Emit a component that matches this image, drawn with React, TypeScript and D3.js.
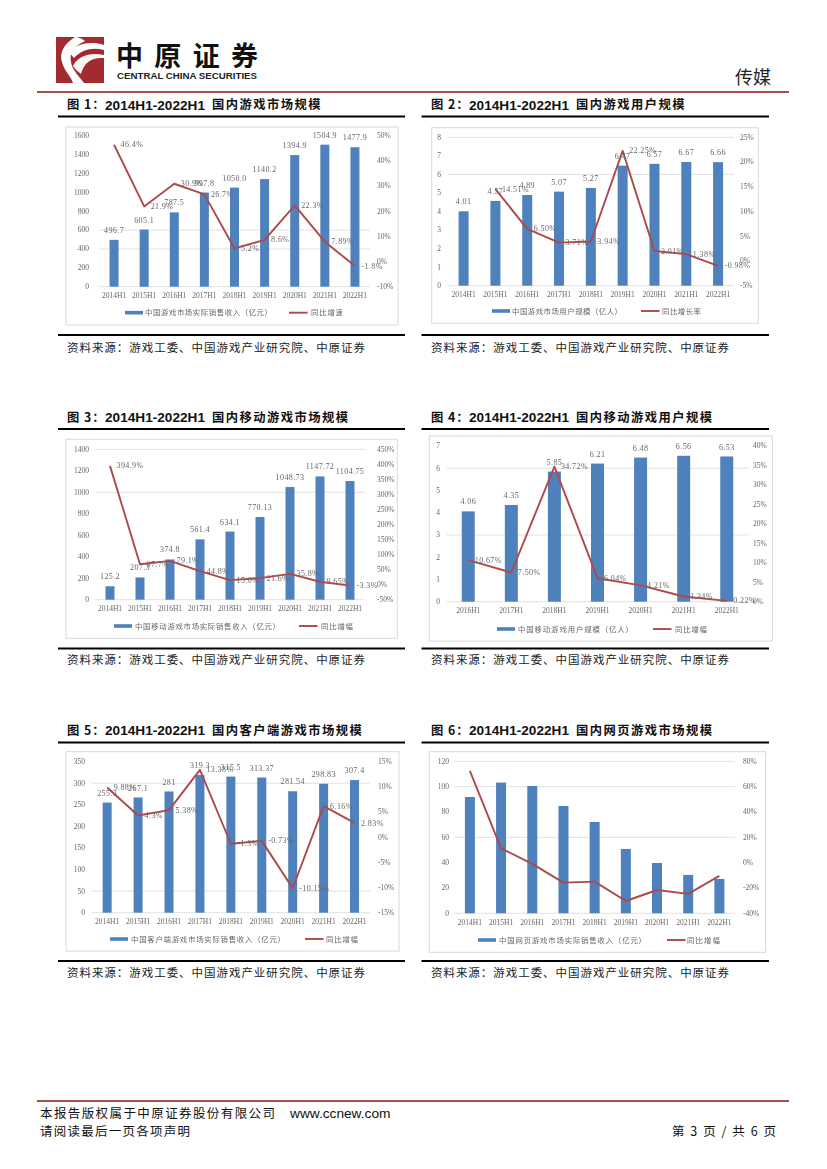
import React from "react";
import * as d3 from "d3";

// ---------- data ----------
const cats9 = ["2014H1", "2015H1", "2016H1", "2017H1", "2018H1", "2019H1", "2020H1", "2021H1", "2022H1"];
const cats7 = ["2016H1", "2017H1", "2018H1", "2019H1", "2020H1", "2021H1", "2022H1"];

const titlePrefixes = ["图 1：", "图 2：", "图 3：", "图 4：", "图 5：", "图 6："];
const titlePeriod = "2014H1-2022H1";
const titleNames = [
  "国内游戏市场规模",
  "国内游戏用户规模",
  "国内移动游戏市场规模",
  "国内移动游戏用户规模",
  "国内客户端游戏市场规模",
  "国内网页游戏市场规模",
];
const sourceText = "资料来源：游戏工委、中国游戏产业研究院、中原证券";

const bars1 = [496.7, 605.1, 787.5, 997.8, 1050.0, 1140.2, 1394.9, 1504.9, 1477.9];
const line1 = [46.4, 21.9, 30.9, 26.7, 5.2, 8.6, 22.3, 7.89, -1.8];
const bars2 = [4.01, 4.57, 4.89, 5.07, 5.27, 6.47, 6.57, 6.67, 6.66];
const line2: (number | null)[] = [null, 14.51, 6.5, 3.71, 3.94, 22.25, 2.01, 1.38, -0.98];
const bars3 = [125.2, 207.3, 374.8, 561.4, 634.1, 770.13, 1048.73, 1147.72, 1104.75];
const line3 = [394.9, 67.7, 79.1, 44.8, 15.0, 21.6, 35.8, 9.65, -3.3];
const bars4 = [4.06, 4.35, 5.85, 6.21, 6.48, 6.56, 6.53];
const line4 = [10.67, 7.5, 34.72, 6.04, 4.21, 1.34, 0.22];
const bars5 = [255.3, 267.1, 281, 319.3, 315.5, 313.37, 281.54, 298.83, 307.4];
const line5 = [9.88, 4.3, 5.38, 13.38, -1.3, -0.73, -10.15, 6.16, 2.83];
const bars6 = [91.8, 103.2, 100.5, 84.7, 72.1, 50.8, 39.7, 30.3, 27.1];
const line6 = [72.4, 11.3, -1.0, -15.8, -15.0, -30.3, -21.6, -24.7, -10.5];

const barLabels1 = ["496.7", "605.1", "787.5", "997.8", "1050.0", "1140.2", "1394.9", "1504.9", "1477.9"];
const lineLabels1 = ["46.4%", "21.9%", "30.9%", "26.7%", "5.2%", "8.6%", "22.3%", "7.89%", "-1.8%"];
const barLabels2 = ["4.01", "4.57", "4.89", "5.07", "5.27", "6.47", "6.57", "6.67", "6.66"];
const lineLabels2 = ["", "14.51%", "6.50%", "3.71%", "3.94%", "22.25%", "2.01%", "1.38%", "-0.98%"];
const barLabels3 = ["125.2", "207.3", "374.8", "561.4", "634.1", "770.13", "1048.73", "1147.72", "1104.75"];
const lineLabels3 = ["394.9%", "67.7%", "79.1%", "44.8%", "15.0%", "21.6%", "35.8%", "9.65%", "-3.3%"];
const barLabels4 = ["4.06", "4.35", "5.85", "6.21", "6.48", "6.56", "6.53"];
const lineLabels4 = ["10.67%", "7.50%", "34.72%", "6.04%", "4.21%", "1.34%", "0.22%"];
const barLabels5 = ["255.3", "267.1", "281", "319.3", "315.5", "313.37", "281.54", "298.83", "307.4"];
const lineLabels5 = ["9.88%", "4.3%", "5.38%", "13.38%", "-1.3%", "-0.73%", "-10.15%", "6.16%", "2.83%"];

const legends = [
  ["中国游戏市场实际销售收入（亿元）", "同比增速"],
  ["中国游戏市场用户规模（亿人）", "同比增长率"],
  ["中国移动游戏市场实际销售收入（亿元）", "同比增幅"],
  ["中国移动游戏用户规模（亿人）", "同比增幅"],
  ["中国客户端游戏市场实际销售收入（亿元）", "同比增幅"],
  ["中国网页游戏市场实际销售收入（亿元）", "同比增幅"],
];

// ---------- styling / layout ----------
const BLUE = "#4f81bd";
const RED = "#ad4a4a";
const DARK_RED = "#8c1014";
const GREY = "#666666";
const CJK = '"Noto Sans CJK SC", sans-serif';
const NUM = '"Liberation Serif", serif';
const SANS = '"Liberation Sans", sans-serif';

interface Spec {
  frame: [number, number, number, number];
  plot: [number, number, number, number]; // left, right, top, bottom
  barW: number;
  cats: string[];
  bars: number[];
  line: (number | null)[];
  barLabels?: string[];
  lineLabels?: string[];
  leftDomain: [number, number];
  leftStep: number;
  rightDomain: [number, number];
  rightStep: number;
  grid: number[];
  leftX: number;
  rightX: number;
  legend: { y: number; s1: number; t1: number; t1w: number; s2: number; t2: number; t2w: number };
  legendText: string[];
}

const specs: Spec[] = [
  {
    frame: [66, 127, 398, 325], plot: [99, 370, 135.7, 286.7], barW: 9, cats: cats9, bars: bars1, line: line1,
    barLabels: barLabels1, lineLabels: lineLabels1, leftDomain: [0, 1600], leftStep: 200, rightDomain: [-10, 50], rightStep: 10,
    grid: [0, 400, 600], leftX: 89, rightX: 377,
    legend: { y: 312.7, s1: 125, t1: 145, t1w: 127, s2: 289, t2: 311, t2w: 32 }, legendText: legends[0],
  },
  {
    frame: [431.7, 127.7, 758.3, 323.3], plot: [447.7, 734, 137.3, 285.7], barW: 10, cats: cats9, bars: bars2, line: line2,
    barLabels: barLabels2, lineLabels: lineLabels2, leftDomain: [0, 8], leftStep: 1, rightDomain: [-5, 25], rightStep: 5,
    grid: [0, 6, 8], leftX: 441, rightX: 740,
    legend: { y: 311, s1: 492, t1: 512, t1w: 110, s2: 641, t2: 662, t2w: 39 }, legendText: legends[1],
  },
  {
    frame: [66, 439.3, 397.3, 638.3], plot: [95, 365, 449.3, 599.7], barW: 9, cats: cats9, bars: bars3, line: line3,
    barLabels: barLabels3, lineLabels: lineLabels3, leftDomain: [0, 1400], leftStep: 200, rightDomain: [-50, 450], rightStep: 50,
    grid: [0, 1000, 1400], leftX: 89, rightX: 377,
    legend: { y: 626, s1: 114, t1: 135, t1w: 145, s2: 299, t2: 321, t2w: 32 }, legendText: legends[2],
  },
  {
    frame: [429.3, 436, 772.3, 641], plot: [446.7, 748.3, 446, 601.7], barW: 13, cats: cats7, bars: bars4, line: line4,
    barLabels: barLabels4, lineLabels: lineLabels4, leftDomain: [0, 7], leftStep: 1, rightDomain: [0, 40], rightStep: 5,
    grid: [0, 3, 6], leftX: 440, rightX: 753,
    legend: { y: 629, s1: 497, t1: 518, t1w: 115, s2: 653, t2: 675, t2w: 32 }, legendText: legends[3],
  },
  {
    frame: [66, 751.7, 399, 951], plot: [91.7, 370, 761.7, 912.7], barW: 9, cats: cats9, bars: bars5, line: line5,
    barLabels: barLabels5, lineLabels: lineLabels5, leftDomain: [0, 350], leftStep: 50, rightDomain: [-15, 15], rightStep: 5,
    grid: [0, 50, 300], leftX: 85, rightX: 378,
    legend: { y: 939, s1: 110, t1: 131, t1w: 154, s2: 305, t2: 326, t2w: 32 }, legendText: legends[4],
  },
  {
    frame: [429.3, 751.7, 765.7, 952.3], plot: [454.3, 735, 761.3, 913.3], barW: 10, cats: cats9, bars: bars6, line: line6,
    leftDomain: [0, 120], leftStep: 20, rightDomain: [-40, 80], rightStep: 20,
    grid: [0, 60, 100, 120], leftX: 449, rightX: 743,
    legend: { y: 940, s1: 478, t1: 499, t1w: 147, s2: 667, t2: 687, t2w: 33 }, legendText: legends[5],
  },
];

const rows = [
  { title: 105, top: 116.5, bottom: 335, source: 347.5 },
  { title: 417.5, top: 429, bottom: 648.5, source: 660 },
  { title: 730.5, top: 742.5, bottom: 961, source: 972.5 },
];
const columns = [
  { x0: 58, x1: 405, text: 67 },
  { x0: 421.5, x1: 769, text: 431 },
];

const rangeOf = (from: number, to: number, step: number) => d3.range(from, to + step / 2, step);

function Chart({ s }: { s: Spec }) {
  const [l, r, t, b] = s.plot;
  const step = (r - l) / s.cats.length;
  const pad = 1 - s.barW / step;
  const x = d3.scaleBand<string>().domain(s.cats).range([l, r]).paddingInner(pad).paddingOuter(pad / 2);
  const yL = d3.scaleLinear().domain(s.leftDomain).range([b, t]);
  const yR = d3.scaleLinear().domain(s.rightDomain).range([b, t]);
  const cx = (c: string) => (x(c) as number) + x.bandwidth() / 2;
  const linePath = d3
    .line<number | null>()
    .defined((d) => d !== null)
    .x((_, i) => cx(s.cats[i]))
    .y((d) => yR(d as number))(s.line) as string;
  const [f0, f1, f2, f3] = s.frame;
  const lg = s.legend;
  return (
    <g>
      <rect x={f0} y={f1} width={f2 - f0} height={f3 - f1} fill="#fff" stroke="#d9d9d9" strokeWidth={1} />
      <g filter="url(#soft)">
        {s.grid.map((v) => (
          <line key={v} x1={l} x2={r} y1={yL(v)} y2={yL(v)} stroke="#d9d9d9" strokeWidth={0.8} />
        ))}
        {s.cats.map((c, i) => (
          <rect key={c} x={x(c)} y={yL(s.bars[i])} width={x.bandwidth()} height={b - yL(s.bars[i])} fill={BLUE} />
        ))}
        <path d={linePath} fill="none" stroke={RED} strokeWidth={1.9} strokeLinejoin="round" />
        {rangeOf(s.leftDomain[0], s.leftDomain[1], s.leftStep).map((v) => (
          <text key={v} x={s.leftX} y={yL(v)} dy="0.32em" textAnchor="end" fontFamily={NUM} fontSize={7.5} fill={GREY}>
            {v}
          </text>
        ))}
        {rangeOf(s.rightDomain[0], s.rightDomain[1], s.rightStep).map((v) => (
          <text key={v} x={s.rightX} y={yR(v)} dy="0.32em" fontFamily={NUM} fontSize={7.5} fill={GREY}>
            {v}%
          </text>
        ))}
        {s.cats.map((c) => (
          <text key={c} x={cx(c)} y={b + 9.3} dy="0.32em" textAnchor="middle" fontFamily={NUM} fontSize={7.5} fill={GREY}>
            {c}
          </text>
        ))}
        {s.barLabels &&
          s.cats.map((c, i) => (
            <text key={c} x={cx(c)} y={yL(s.bars[i]) - 9.5} dy="0.32em" textAnchor="middle" fontFamily={NUM} fontSize={8} letterSpacing={0.4} fill={GREY}>
              {s.barLabels![i]}
            </text>
          ))}
        {s.lineLabels &&
          s.cats.map((c, i) =>
            s.line[i] === null ? null : (
              <text key={c} x={cx(c) + 6.5} y={yR(s.line[i] as number)} dy="0.32em" fontFamily={NUM} fontSize={8} letterSpacing={0.4} fill={GREY}>
                {s.lineLabels![i]}
              </text>
            ),
          )}
        <rect x={lg.s1} y={lg.y - 1.8} width={18} height={3.6} fill={BLUE} />
        <text x={lg.t1} y={lg.y} dy="0.36em" textLength={lg.t1w} lengthAdjust="spacing" fontFamily={CJK} fontSize={7.4} fill={GREY}>
          {s.legendText[0]}
        </text>
        <line x1={lg.s2} x2={lg.s2 + 18.5} y1={lg.y} y2={lg.y} stroke={RED} strokeWidth={1.9} />
        <text x={lg.t2} y={lg.y} dy="0.36em" textLength={lg.t2w} lengthAdjust="spacing" fontFamily={CJK} fontSize={7.4} fill={GREY}>
          {s.legendText[1]}
        </text>
      </g>
    </g>
  );
}

function Logo() {
  return (
    <g>
      <rect x={56} y={37} width={48} height={46} fill="#a32b2f" />
      <path d="M75 37 C64 44 59 53 62 62 C64 71 71 76 73 83 L84 83 C79 76 72 70 71 62 C69 53 74 46 85 41 C81 38 78 37 75 37 Z" fill="#fff" />
      <path d="M69 52 C77 43 92 41 104 45 L104 50 C93 47 82 49 74 58 Z" fill="#fff" />
      <path d="M73 66 C78 56 90 52 104 55 L104 58 C92 57 84 62 81 74 C78 72 75 69 73 66 Z" fill="#fff" opacity={0.95} />
      <text x={116} y={66} textLength={142} lengthAdjust="spacing" fontFamily={CJK} fontWeight={700} fontSize={27} fill="#111">
        中原证券
      </text>
      <text x={117} y={78.5} textLength={140} lengthAdjust="spacingAndGlyphs" fontFamily={SANS} fontWeight={700} fontSize={8.6} fill="#222">
        CENTRAL CHINA SECURITIES
      </text>
    </g>
  );
}

export default function App() {
  return (
    <svg
      width={827}
      height={1169}
      viewBox="0 0 827 1169"
      style={{ position: "absolute", left: 0, top: 0, background: "#fff" }}
    >
      <defs>
        <filter id="soft" x="-5%" y="-5%" width="110%" height="110%">
          <feGaussianBlur stdDeviation="0.35" />
        </filter>
      </defs>
      <Logo />
      <text x={735} y={84} fontFamily={CJK} fontSize={18} fill="#222">
        传媒
      </text>
      <line x1={37} x2={789} y1={92} y2={92} stroke={DARK_RED} strokeWidth={1.6} />

      {rows.map((row, ri) =>
        columns.map((col, ci) => {
          const idx = ri * 2 + ci;
          return (
            <g key={idx}>
              <text x={col.text} y={row.title} dy="0.36em" fontFamily={CJK} fontWeight={700} fontSize={12.3} letterSpacing={1} fill="#111">
                {titlePrefixes[idx]}
              </text>
              <text x={col.text + 38} y={row.title} dy="0.36em" textLength={100} lengthAdjust="spacing" fontFamily={SANS} fontWeight={700} fontSize={13.6} fill="#111">
                {titlePeriod}
              </text>
              <text x={col.text + 145} y={row.title} dy="0.36em" fontFamily={CJK} fontWeight={700} fontSize={12.3} letterSpacing={1.45} fill="#111">
                {titleNames[idx]}
              </text>
              <line x1={col.x0} x2={col.x1} y1={row.top} y2={row.top} stroke="#000" strokeWidth={1.8} />
              <line x1={col.x0} x2={col.x1} y1={row.bottom} y2={row.bottom} stroke="#000" strokeWidth={1.8} />
              <text x={col.text} y={row.source} dy="0.36em" textLength={298} lengthAdjust="spacing" fontFamily={CJK} fontSize={11.5} fill="#222">
                {sourceText}
              </text>
            </g>
          );
        }),
      )}

      {specs.map((s, i) => (
        <Chart key={i} s={s} />
      ))}

      <line x1={37} x2={789} y1={1101} y2={1101} stroke={DARK_RED} strokeWidth={1.6} />
      <text x={40} y={1113} dy="0.36em" textLength={235} lengthAdjust="spacing" fontFamily={CJK} fontSize={12.5} fill="#111">
        本报告版权属于中原证券股份有限公司
      </text>
      <text x={290} y={1113} dy="0.36em" fontFamily={SANS} fontSize={13.7} fill="#111">
        www.ccnew.com
      </text>
      <text x={40} y={1131} dy="0.36em" textLength={150} lengthAdjust="spacing" fontFamily={CJK} fontSize={12.5} fill="#111">
        请阅读最后一页各项声明
      </text>
      <text x={672} y={1131} dy="0.36em" textLength={104} lengthAdjust="spacing" fontFamily={CJK} fontSize={12.5} fill="#111">
        第 3 页 / 共 6 页
      </text>
    </svg>
  );
}
